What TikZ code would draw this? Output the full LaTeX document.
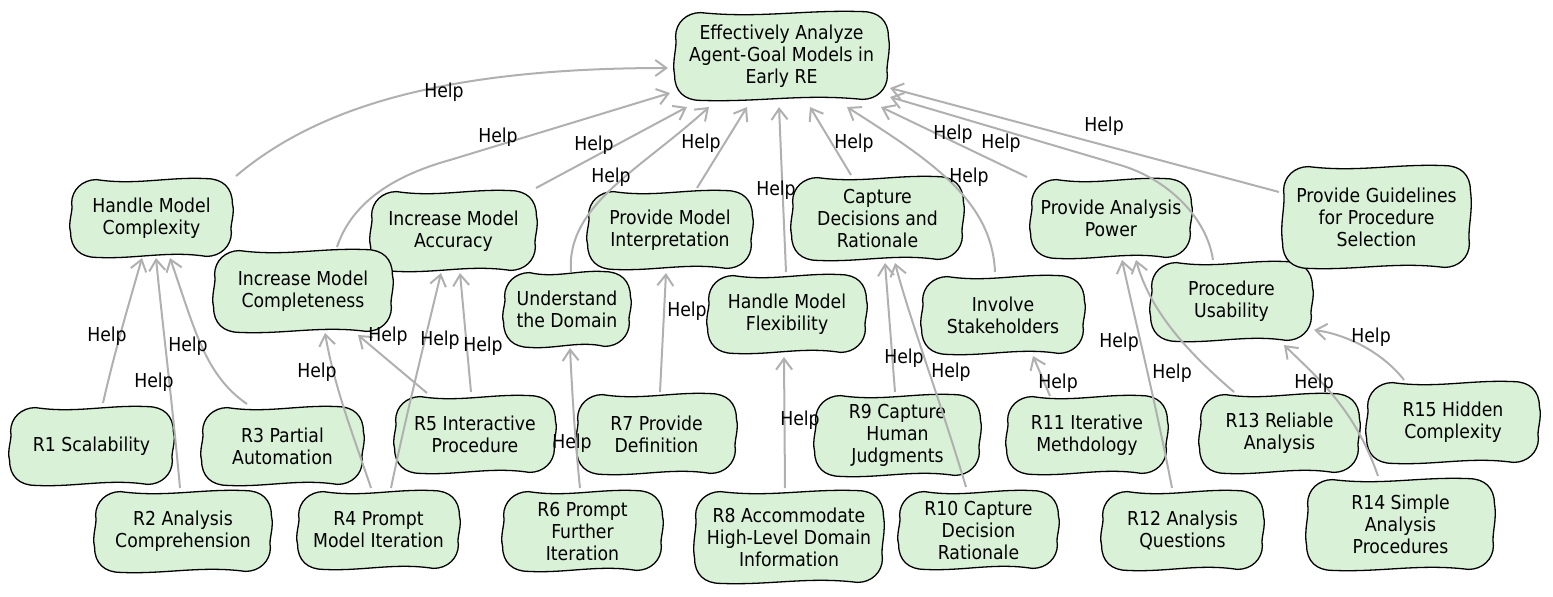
\documentclass[tikz,border=0pt]{standalone}
\usepackage{fontspec}
\setmainfont{DejaVu Sans Condensed}
\usetikzlibrary{calc,arrows.meta}
\definecolor{boxfill}{RGB}{217,242,215}
\definecolor{edgegray}{RGB}{176,176,176}
\pgfdeclarelayer{bg}
\pgfsetlayers{bg,main}
\tikzset{
  goalbox/.style={inner sep=0pt, align=center, font=\fontsize{9.6}{11}\selectfont},
  lbl/.style={inner sep=0pt, font=\fontsize{9.6}{11}\selectfont},
  edge/.style={draw=edgegray, line width=1pt, -{Straight Barb[length=5.5pt,width=8pt]}},
  blobpath/.style={fill=boxfill, draw=black, line width=0.65pt}
}
\newcommand\bnode[6]{\node[goalbox, minimum width={(#4-#2)*0.5pt}, minimum height={(#5-#3)*0.5pt}] (#1) at ({(#2+#4)/2},{(#3+#5)/2}) {#6};}
\newcommand\blob[1]{%
 \path[blobpath] let \p1=(#1.south west), \p2=(#1.north east) in
  ({\x1+13pt},\y2)
  .. controls ({\x1+0.4*(\x2-\x1)},{\y2-3pt}) and ({\x1+0.6*(\x2-\x1)},{\y2+1.5pt}) .. ({\x2-13pt},{\y2+0.5pt})
  .. controls ({\x2-5pt},{\y2+0.5pt}) and (\x2,{\y2-4pt}) .. (\x2,{\y2-12pt})
  .. controls ({\x2+1.5pt},{\y2-0.45*(\y2-\y1)}) and ({\x2-1.5pt},{\y1+0.4*(\y2-\y1)}) .. ({\x2-0.5pt},{\y1+12pt})
  .. controls ({\x2-0.5pt},{\y1+5pt}) and ({\x2-6pt},\y1) .. ({\x2-13pt},\y1)
  .. controls ({\x1+0.6*(\x2-\x1)},{\y1+3pt}) and ({\x1+0.4*(\x2-\x1)},{\y1-1.5pt}) .. ({\x1+13pt},{\y1-0.5pt})
  .. controls ({\x1+5pt},{\y1-0.5pt}) and (\x1,{\y1+4pt}) .. (\x1,{\y1+12pt})
  .. controls ({\x1-1.5pt},{\y1+0.45*(\y2-\y1)}) and ({\x1+1.5pt},{\y2-0.4*(\y2-\y1)}) .. ({\x1+0.5pt},{\y2-12pt})
  .. controls ({\x1+0.5pt},{\y2-5pt}) and ({\x1+6pt},\y2) .. ({\x1+13pt},\y2) -- cycle;}
\begin{document}
\begin{tikzpicture}[x=0.5pt,y=-0.5pt]
\useasboundingbox (0,0) rectangle (1553,596);
% goals
\bnode{goal}{675}{13}{888}{99}{Effectively Analyze\\Agent-Goal Models in\\Early RE}
\bnode{hmc}{71}{180}{232}{256}{Handle Model\\Complexity}
\bnode{imcomp}{214}{251}{392}{331}{Increase Model\\Completeness}
\bnode{imacc}{371}{192}{536}{270}{Increase Model\\Accuracy}
\bnode{und}{504}{273}{630}{346}{Understand\\the Domain}
\bnode{pmi}{588}{192}{752}{268}{Provide Model\\Interpretation}
\bnode{hmf}{708}{276}{866}{352}{Handle Model\\Flexibility}
\bnode{cdr}{792}{178}{963}{259}{Capture\\Decisions and\\Rationale}
\bnode{inv}{922}{277}{1084}{353}{Involve\\Stakeholders}
\bnode{pap}{1031}{180}{1191}{257}{Provide Analysis\\Power}
\bnode{pu}{1151}{263}{1312}{340}{Procedure\\Usability}
\bnode{pgps}{1283}{167}{1470}{267}{Provide Guidelines\\for Procedure\\Selection}
% requirements
\bnode{r1}{10}{408}{173}{484}{R1 Scalability}
\bnode{r2}{95}{492}{271}{571}{R2 Analysis\\Comprehension}
\bnode{r3}{202}{408}{363}{484}{R3 Partial\\Automation}
\bnode{r4}{298}{492}{459}{568}{R4 Prompt\\Model Iteration}
\bnode{r5}{395}{397}{555}{472}{R5 Interactive\\Procedure}
\bnode{r6}{503}{492}{662}{570}{R6 Prompt\\Further\\Iteration}
\bnode{r7}{577}{395}{736}{473}{R7 Provide\\Definition}
\bnode{r8}{695}{492}{883}{582}{R8 Accommodate\\High-Level Domain\\Information}
\bnode{r9}{815}{396}{980}{475}{R9 Capture\\Human\\Judgments}
\bnode{r10}{899}{492}{1058}{568}{R10 Capture\\Decision\\Rationale}
\bnode{r11}{1007}{397}{1167}{473}{R11 Iterative\\Methdology}
\bnode{r12}{1102}{492}{1263}{569}{R12 Analysis\\Questions}
\bnode{r13}{1200}{395}{1359}{472}{R13 Reliable\\Analysis}
\bnode{r14}{1307}{480}{1494}{569}{R14 Simple\\Analysis\\Procedures}
\bnode{r15}{1367}{383}{1539}{462}{R15 Hidden\\Complexity}
\begin{pgfonlayer}{bg}
\foreach \nm in {goal,hmc,imacc,imcomp,und,pmi,hmf,cdr,inv,pap,pu,pgps,r1,r2,r3,r4,r5,r6,r7,r8,r9,r10,r11,r12,r13,r14,r15}{\blob{\nm}}
\end{pgfonlayer}
% edges to top goal
\draw[edge] ($(hmc)+(84.5,-42)$) .. controls (320,105) and (450,68) .. ($(goal)+(-113.5,12)$);
\draw[edge] ($(imcomp)+(34,-44)$) .. controls (350,208) and (385,178) .. (450,160) -- ($(goal)+(-111.5,37)$);
\draw[edge] ($(imacc)+(82.5,-43)$) -- ($(goal)+(-94.5,51)$);
\draw[edge] ($(und)+(4,-37.5)$) .. controls (566,205) and (640,170) .. ($(goal)+(-72.5,51)$);
\draw[edge] ($(pmi)+(27,-42)$) -- ($(goal)+(-34.5,51)$);
\draw[edge] ($(hmf)+(-1,-42)$) -- ($(goal)+(-2.5,51)$);
\draw[edge] ($(cdr)+(-26.5,-43.5)$) -- ($(goal)+(28.5,51)$);
\draw[edge] ($(inv)+(-8,-43)$) .. controls (992,200) and (930,160) .. ($(goal)+(65.5,51)$);
\draw[edge] ($(pap)+(-84,-41.5)$) -- ($(goal)+(99.5,51)$);
\draw[edge] ($(pu)+(-18.5,-41.5)$) .. controls (1207,218) and (1168,179) .. (1120,165) -- ($(goal)+(108.5,41)$);
\draw[edge] ($(pgps)+(-97.5,-25)$) -- ($(goal)+(108.5,32)$);
% edges from requirements
\draw[edge] ($(r1)+(11.5,-43)$) .. controls (115,350) and (130,300) .. ($(hmc)+(-9.5,40)$);
\draw[edge] ($(r2)+(-3,-43.5)$) .. controls (172,400) and (162,320) .. ($(hmc)+(4.5,40)$);
\draw[edge] ($(r3)+(-35.5,-42)$) .. controls (205,375) and (195,330) .. ($(hmc)+(18.5,40)$);
\draw[edge] ($(r4)+(-7.5,-42)$) .. controls (355,440) and (335,390) .. ($(imcomp)+(22,42)$);
\draw[edge] ($(r4)+(12.5,-42)$) .. controls (405,420) and (425,340) .. ($(imacc)+(-12.5,42)$);
\draw[edge] ($(r5)+(-48,-41.5)$) -- ($(imcomp)+(55,44)$);
\draw[edge] ($(r5)+(-4,-42.5)$) -- ($(imacc)+(6.5,42)$);
\draw[edge] ($(r6)+(-2.5,-43)$) .. controls (575,440) and (572,390) .. ($(und)+(3,38.5)$);
\draw[edge] ($(r7)+(3.5,-42)$) -- ($(pmi)+(-4,43)$);
\draw[edge] ($(r8)+(-4,-49)$) -- ($(hmf)+(-3,43)$);
\draw[edge] ($(r9)+(-2.5,-43.5)$) -- ($(cdr)+(7.5,44.5)$);
\draw[edge] ($(r10)+(-12.5,-43)$) .. controls (940,400) and (910,320) .. ($(cdr)+(17.5,44.5)$);
\draw[edge] ($(r11)+(-37,-39)$) -- ($(inv)+(30,41)$);
\draw[edge] ($(r12)+(-10.5,-42.5)$) .. controls (1155,400) and (1135,320) .. ($(pap)+(11,41.5)$);
\draw[edge] ($(r13)+(-45.5,-41.5)$) .. controls (1185,350) and (1150,310) .. ($(pap)+(25,41.5)$);
\draw[edge] ($(r14)+(-22.5,-48.5)$) .. controls (1355,410) and (1320,380) .. ($(pu)+(52.5,43.5)$);
\draw[edge] ($(r15)+(-49,-42.5)$) .. controls (1385,355) and (1350,335) .. ($(pu)+(82.5,28.5)$);
% labels
\node[lbl] (h1) at (444,92) {Help};
\node[lbl] (h2) at (498,137) {Help};
\node[lbl] (h3) at (594,145) {Help};
\node[lbl] (h4) at (611,177) {Help};
\node[lbl] (h5) at (701,143) {Help};
\node[lbl] (h6) at (776,190) {Help};
\node[lbl] (h7) at (854,143) {Help};
\node[lbl] (h8) at (969,177) {Help};
\node[lbl] (h9) at (953,134) {Help};
\node[lbl] (h10) at (1001,143) {Help};
\node[lbl] (h11) at (1104,126) {Help};
\node[lbl] (h12) at (107,336) {Help};
\node[lbl] (h13) at (154,382) {Help};
\node[lbl] (h14) at (188,346) {Help};
\node[lbl] (h15) at (317,372) {Help};
\node[lbl] (h16) at (440,340) {Help};
\node[lbl] (h17) at (388,336) {Help};
\node[lbl] (h18) at (483,346) {Help};
\node[lbl] (h19) at (572,443) {Help};
\node[lbl] (h20) at (687,311) {Help};
\node[lbl] (h21) at (800,420) {Help};
\node[lbl] (h22) at (904,358) {Help};
\node[lbl] (h23) at (951,372) {Help};
\node[lbl] (h24) at (1058,383) {Help};
\node[lbl] (h25) at (1119,342) {Help};
\node[lbl] (h26) at (1172,373) {Help};
\node[lbl] (h27) at (1314,383) {Help};
\node[lbl] (h28) at (1371,337) {Help};
\end{tikzpicture}
\end{document}
